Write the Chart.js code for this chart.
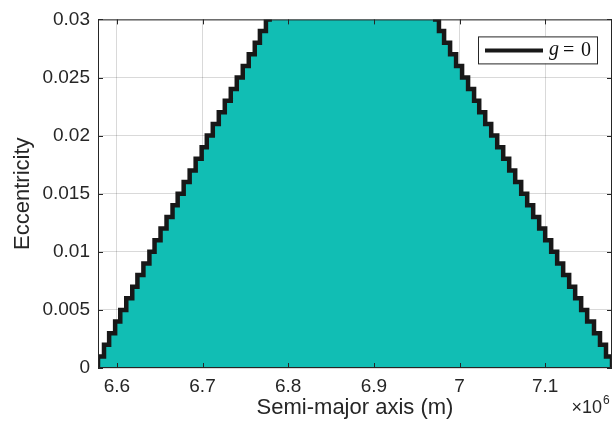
<!DOCTYPE html>
<html>
<head>
<meta charset="utf-8">
<script src="https://cdn.jsdelivr.net/npm/chart.js@4.4.1/dist/chart.umd.min.js"></script>
<style>
  html, body { margin: 0; padding: 0; background: #fff; }
</style>
</head>
<body>
<canvas id="ecc-chart" width="613" height="425"></canvas>
<script>
// eccentricity rows of the grid
const eccRows = [0, 0.001, 0.002, 0.003, 0.004, 0.005, 0.006, 0.007, 0.008, 0.009, 0.010,
                 0.011, 0.012, 0.013, 0.014, 0.015, 0.016, 0.017, 0.018, 0.019, 0.020,
                 0.021, 0.022, 0.023, 0.024, 0.025, 0.026, 0.027, 0.028, 0.029, 0.030];

// g = 0 boundary, semi-major axis in km for each row (low side / high side)
const leftSmaKm = [6578, 6585, 6591, 6598, 6604, 6611, 6618, 6624, 6631, 6638, 6644,
                   6651, 6658, 6665, 6671, 6678, 6685, 6692, 6699, 6705, 6712,
                   6719, 6726, 6733, 6740, 6747, 6754, 6761, 6767, 6774, 6781];
const rightSmaKm = [7178, 7171, 7164, 7157, 7149, 7142, 7135, 7128, 7121, 7114, 7107,
                    7100, 7093, 7086, 7079, 7072, 7065, 7058, 7051, 7044, 7037,
                    7030, 7023, 7017, 7010, 7003, 6996, 6989, 6982, 6976, 6969];

const xTicks = [6.6e6, 6.7e6, 6.8e6, 6.9e6, 7.0e6, 7.1e6];
const yTicks = [0, 0.005, 0.01, 0.015, 0.02, 0.025, 0.03];
const seriesLabel = 'g = 0';

const axisColor = '#262626';
const fillColor = 'rgb(17, 190, 180)';
const lineColor = '#181818';
const sans = '"Liberation Sans", Arial, Helvetica, sans-serif';
const serif = '"Liberation Serif", "Times New Roman", serif';

// staircase through the grid cells
function stairs(smaKm) {
    const pts = [{ x: smaKm[0] * 1000, y: eccRows[0] }];
    for (let i = 1; i < eccRows.length; i++) {
        pts.push({ x: smaKm[i - 1] * 1000, y: eccRows[i] });
        pts.push({ x: smaKm[i] * 1000, y: eccRows[i] });
    }
    return pts;
}

const leftPts = stairs(leftSmaKm);
const rightPts = stairs(rightSmaKm);
const regionPts = leftPts.concat(rightPts.slice().reverse());

// box, inward ticks, legend and the x10^6 multiplier
const framePlugin = {
    id: 'frame',
    afterDraw(chart) {
        const { ctx, chartArea: a, scales: { x, y } } = chart;
        ctx.save();
        ctx.strokeStyle = axisColor;
        ctx.lineWidth = 1;
        ctx.strokeRect(a.left + 0.5, a.top + 0.5, a.width - 1, a.height - 1);

        const len = 5;
        ctx.beginPath();
        xTicks.forEach(v => {
            const px = Math.round(x.getPixelForValue(v)) + 0.5;
            ctx.moveTo(px, a.bottom); ctx.lineTo(px, a.bottom - len);
            ctx.moveTo(px, a.top); ctx.lineTo(px, a.top + len);
        });
        yTicks.forEach(v => {
            const py = Math.round(y.getPixelForValue(v)) + 0.5;
            ctx.moveTo(a.left, py); ctx.lineTo(a.left + len, py);
            ctx.moveTo(a.right, py); ctx.lineTo(a.right - len, py);
        });
        ctx.stroke();

        // legend
        const bx = a.right - 134, by = a.top + 17, bw = 119, bh = 27;
        ctx.fillStyle = '#fff';
        ctx.fillRect(bx, by, bw, bh);
        ctx.strokeStyle = axisColor;
        ctx.lineWidth = 1;
        ctx.strokeRect(bx + 0.5, by + 0.5, bw, bh);
        const my = by + bh / 2 + 0.5;
        ctx.strokeStyle = lineColor;
        ctx.lineWidth = 4;
        ctx.beginPath();
        ctx.moveTo(bx + 7, my); ctx.lineTo(bx + 65, my);
        ctx.stroke();

        const parts = seriesLabel.split(' ');
        ctx.fillStyle = '#111';
        ctx.textBaseline = 'alphabetic';
        ctx.textAlign = 'left';
        ctx.font = 'italic 20px ' + serif;
        ctx.fillText(parts[0], bx + 71, my + 5);
        ctx.font = '20px ' + serif;
        ctx.fillText(parts[1], bx + 85, my + 6);
        ctx.fillText(parts[2], bx + 103, my + 6);

        // exponent label
        ctx.fillStyle = axisColor;
        ctx.textAlign = 'right';
        ctx.font = '18px ' + sans;
        ctx.fillText('\u00d710', a.right - 10, a.bottom + 45);
        ctx.textAlign = 'left';
        ctx.font = '12px ' + sans;
        ctx.fillText('6', a.right - 9, a.bottom + 36);
        ctx.restore();
    }
};

const ctx = document.getElementById('ecc-chart').getContext('2d');
new Chart(ctx, {
    type: 'line',
    data: {
        datasets: [
            {
                label: seriesLabel,
                data: leftPts,
                borderColor: lineColor,
                borderWidth: 4.5,
                borderJoinStyle: 'miter',
                fill: false,
                pointRadius: 0,
                clip: 0,
                order: 0
            },
            {
                label: seriesLabel,
                data: rightPts,
                borderColor: lineColor,
                borderWidth: 4.5,
                borderJoinStyle: 'miter',
                fill: false,
                pointRadius: 0,
                clip: 0,
                order: 0
            },
            {
                label: 'region',
                data: regionPts,
                borderWidth: 0,
                backgroundColor: fillColor,
                fill: 'origin',
                pointRadius: 0,
                clip: 0,
                order: 1
            }
        ]
    },
    options: {
        responsive: false,
        animation: false,
        layout: { padding: { top: 16, right: 1, left: 0, bottom: 0 } },
        plugins: {
            legend: { display: false },
            tooltip: { enabled: false }
        },
        scales: {
            x: {
                type: 'linear',
                min: 6.578e6,
                max: 7.178e6,
                z: 1,
                afterBuildTicks: s => { s.ticks = xTicks.map(v => ({ value: v })); },
                afterFit: s => { s.height = 57; },
                grid: { color: 'rgba(0,0,0,0.15)', drawTicks: false },
                border: { display: false },
                ticks: {
                    color: axisColor,
                    font: { family: sans, size: 19 },
                    padding: 7,
                    maxRotation: 0,
                    autoSkip: false,
                    callback: v => String(Number((v / 1e6).toFixed(2)))
                },
                title: {
                    display: true,
                    text: 'Semi-major axis (m)',
                    color: axisColor,
                    font: { family: sans, size: 22, lineHeight: 1.2 },
                    padding: { top: 0, bottom: 4 }
                }
            },
            y: {
                min: 0,
                max: 0.03,
                z: 1,
                afterBuildTicks: s => { s.ticks = yTicks.map(v => ({ value: v })); },
                afterFit: s => { s.width = 98; },
                grid: { color: 'rgba(0,0,0,0.15)', drawTicks: false },
                border: { display: false },
                ticks: {
                    color: axisColor,
                    font: { family: sans, size: 19 },
                    padding: 8,
                    autoSkip: false,
                    callback: v => String(v)
                },
                title: {
                    display: true,
                    text: 'Eccentricity',
                    color: axisColor,
                    font: { family: sans, size: 22, lineHeight: 1.2 },
                    padding: { top: 10, bottom: 0 }
                }
            }
        }
    },
    plugins: [framePlugin]
});
</script>
</body>
</html>
